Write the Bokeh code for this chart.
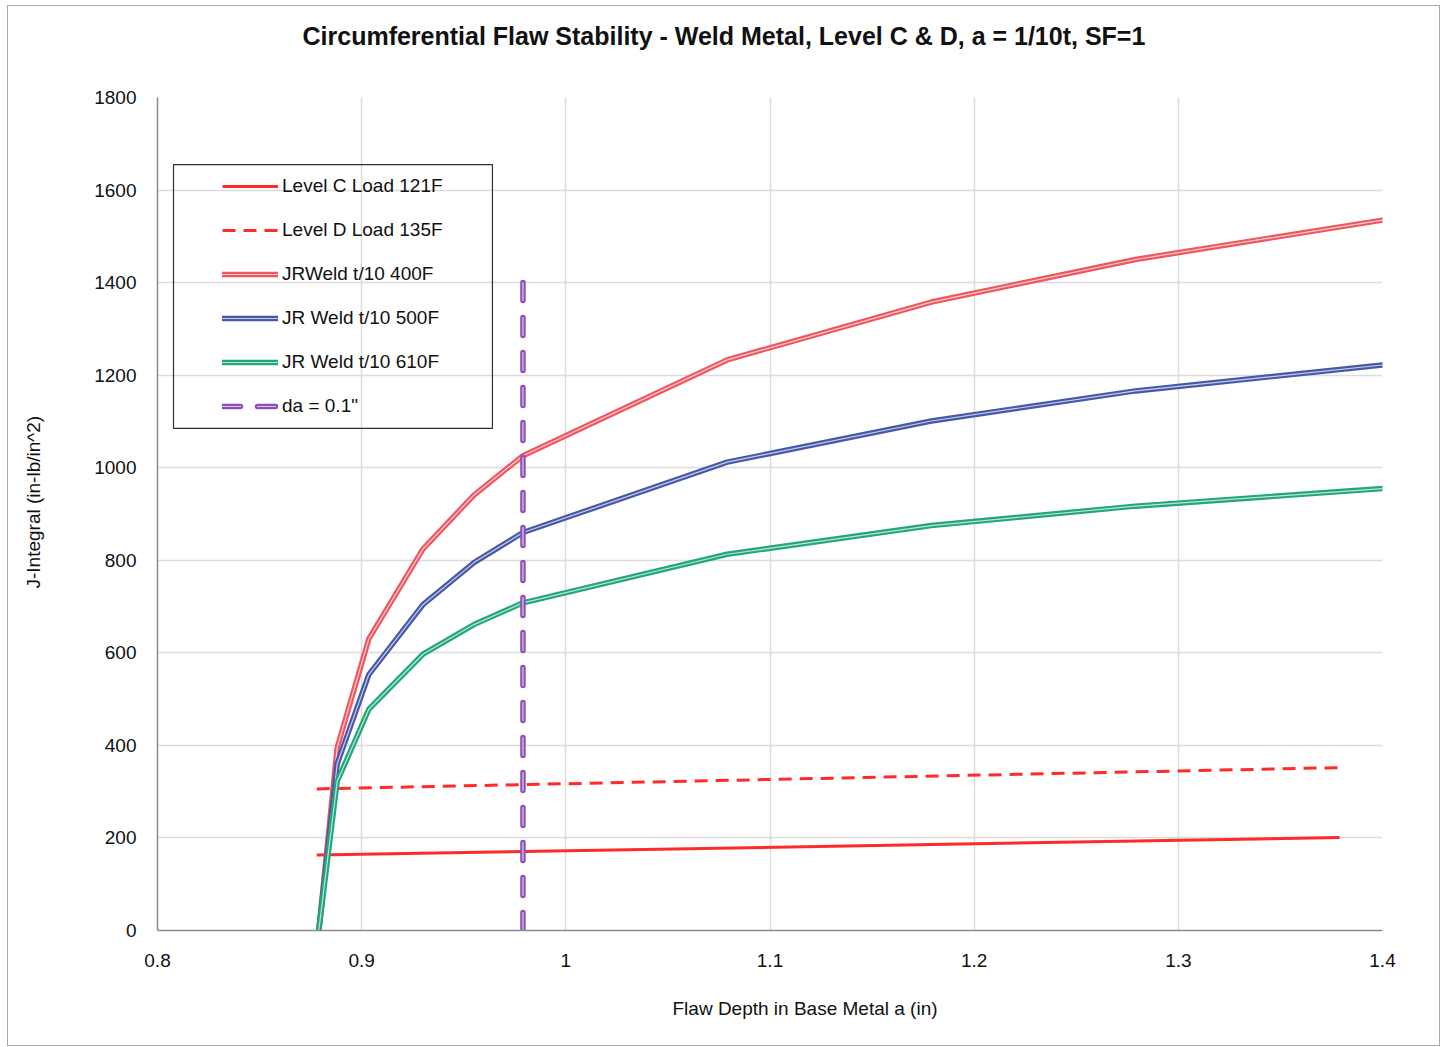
from bokeh.plotting import figure
from bokeh.models import (Legend, LegendItem, FixedTicker, CustomJSTickFormatter,
                          BoxAnnotation, Title)
from bokeh.embed import file_html
from bokeh.resources import INLINE

# ---- data ----
jr_x = [0.879, 0.888, 0.9035, 0.93, 0.955, 0.979, 1.079, 1.179, 1.279, 1.4]
jr400 = [0, 395, 630, 824, 941, 1026, 1233, 1358, 1450, 1535]
jr500 = [0, 360, 553, 704, 795, 860, 1012, 1101, 1166, 1222]
jr610 = [0, 322, 478, 597, 661, 708, 813, 875, 917, 955]

load_x = [0.878, 1.379]
level_c = [163, 201]
level_d = [306, 352]

da_x = [0.979, 0.979]
da_y = [0, 1400]

x_ticks = [0.8, 0.9, 1.0, 1.1, 1.2, 1.3, 1.4]
y_ticks = [0, 200, 400, 600, 800, 1000, 1200, 1400, 1600, 1800]

labels = ["Level C Load 121F", "Level D Load 135F", "JRWeld t/10 400F",
          "JR Weld t/10 500F", "JR Weld t/10 610F", 'da = 0.1"']
title_text = "Circumferential Flaw Stability - Weld Metal, Level C & D, a = 1/10t, SF=1"
x_label = "Flaw Depth in Base Metal a (in)"
y_label = "J-Integral  (in-lb/in^2)"

FONT = "Liberation Sans"

p = figure(output_backend="svg", toolbar_location=None,
           frame_width=1225, frame_height=833,
           x_range=(0.8, 1.4), y_range=(0, 1800),
           min_border_left=149, min_border_right=57,
           min_border_top=91, min_border_bottom=114,
           title=None)
p.styles = {"border": "1px solid #a8a8a8", "margin": "5px 0px 0px 7px"}
p.outline_line_color = None
p.background_fill_color = "white"
p.border_fill_color = "white"

for ax in (p.xaxis[0], p.yaxis[0]):
    ax.axis_line_color = "#8a8a8a"
    ax.axis_line_width = 1.5
    ax.major_tick_line_color = None
    ax.minor_tick_line_color = None
    ax.major_label_text_font = FONT
    ax.major_label_text_font_size = "19px"
    ax.major_label_text_color = "#111111"

p.xaxis.ticker = FixedTicker(ticks=x_ticks)
p.yaxis.ticker = FixedTicker(ticks=y_ticks)
p.xaxis.formatter = CustomJSTickFormatter(code="return (Math.round(tick*10)/10).toString();")
p.xaxis.major_label_standoff = 17
p.yaxis.major_label_standoff = 15

p.xgrid.ticker = FixedTicker(ticks=x_ticks)
p.ygrid.ticker = FixedTicker(ticks=y_ticks)
p.grid.grid_line_color = "#dcdcdc"
p.grid.grid_line_width = 1.5

# --- titles (spacers first: panels stack outward from the frame) ---
p.add_layout(Title(text=" ", text_font_size="1px", standoff=40), "above")
p.add_layout(Title(text=title_text, align="left", offset=145, standoff=10,
                   text_font=FONT, text_font_size="25px", text_font_style="bold",
                   text_color="#111111"), "above")

p.add_layout(Title(text=x_label, align="left", offset=515, standoff=53,
                   text_font=FONT, text_font_size="19px", text_font_style="normal",
                   text_color="#111111"), "below")

p.add_layout(Title(text=" ", text_font_size="1px", standoff=40), "left")
p.add_layout(Title(text=y_label, align="left", offset=342, standoff=10,
                   text_font=FONT, text_font_size="19px", text_font_style="normal",
                   text_color="#111111"), "left")

RED = "#FF2B2B"
c_r = p.line(load_x, level_c, line_color=RED, line_width=3)
d_r = p.line(load_x, level_d, line_color=RED, line_width=3, line_dash="13 8")

def outlined(xs, ys, color, dash=None):
    kw = {}
    if dash:
        kw["line_dash"] = dash
    o = p.line(xs, ys, line_color=color, line_width=5.5, line_cap="round", line_join="round", **kw)
    i = p.line(xs, ys, line_color="white", line_width=1.2, line_alpha=0.7,
               line_cap="round", line_join="round", **kw)
    return [o, i]

r400 = outlined(jr_x, jr400, "#EE5660")
r500 = outlined(jr_x, jr500, "#4858A8")
r610 = outlined(jr_x, jr610, "#22A67C")
rda = outlined(da_x, da_y, "#8C50B8", dash="18 17")

box = BoxAnnotation(left=0.80784, right=0.96405, bottom=1085, top=1655,
                    fill_alpha=0.0, line_alpha=1.0,
                    line_color="#303030", line_width=1.2, level="overlay")
p.add_layout(box)

legend = Legend(items=[
    LegendItem(label=labels[0], renderers=[c_r]),
    LegendItem(label=labels[1], renderers=[d_r]),
    LegendItem(label=labels[2], renderers=r400),
    LegendItem(label=labels[3], renderers=r500),
    LegendItem(label=labels[4], renderers=r610),
    LegendItem(label=labels[5], renderers=rda),
], location=(54, 502))
legend.label_text_font = FONT
legend.label_text_font_size = "19px"
legend.label_text_color = "#111111"
legend.glyph_width = 56
legend.glyph_height = 22
legend.label_height = 22
legend.spacing = 22
legend.padding = 11
legend.label_standoff = 4
legend.border_line_alpha = 0
legend.background_fill_alpha = 0
legend.margin = 0
p.add_layout(legend, "center")

open("out.html", "w").write(file_html(p, INLINE))
